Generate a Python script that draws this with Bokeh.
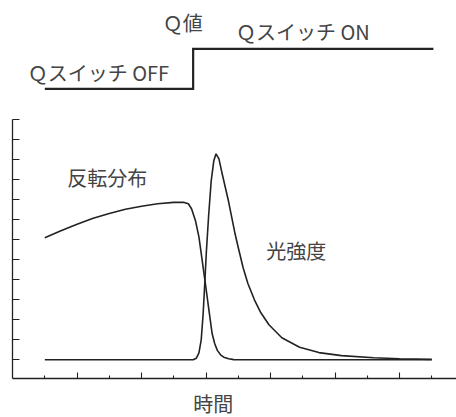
from bokeh.plotting import figure
from bokeh.models import Range1d, LinearAxis, FixedTicker, CustomJSTickFormatter
from bokeh.core.properties import value
from bokeh.embed import file_html
from bokeh.resources import INLINE

# --- data (time in tick units, amplitude in tick units) ---
inv_x = [0, 0.5, 1.0, 1.5, 2.0, 2.5, 3.0, 3.5, 4.0, 4.3, 4.45, 4.55, 4.67, 4.78,
         4.88, 4.98, 5.09, 5.19, 5.27, 5.35, 5.45, 5.55, 5.7, 5.86, 6.0, 12.0]
inv_y = [6.1, 6.45, 6.78, 7.08, 7.32, 7.53, 7.68, 7.8, 7.87, 7.88, 7.8, 7.55, 6.97, 6.13,
         4.97, 3.8, 2.47, 1.3, 0.8, 0.47, 0.25, 0.13, 0.05, 0.01, 0.0, 0.0]

light_x = [0, 4.6, 4.7, 4.78, 4.85, 4.91, 4.96, 5.01, 5.08, 5.16, 5.24, 5.31, 5.4, 5.5,
           5.6, 5.7, 5.8, 5.9, 6.0, 6.15, 6.3, 6.5, 6.7, 6.95, 7.35, 7.9, 8.5, 9.2,
           10.2, 11.0, 12.0]
light_y = [0, 0, 0.08, 0.35, 1.0, 2.3, 3.8, 5.4, 7.2, 8.95, 9.95, 10.3, 10.05, 9.3,
           8.6, 7.9, 7.1, 6.3, 5.6, 4.6, 3.8, 3.0, 2.35, 1.75, 1.1, 0.63, 0.36, 0.21,
           0.1, 0.05, 0.02]

q_x = [0.0, 4.6, 12.05]
q_y = [13.55, 15.55, 15.55]

y_ticks = list(range(0, 13))
x_major = [1, 3, 5, 7, 9, 11]
x_minor = [0, 2, 4, 6, 8, 10, 12]

labels = ["Ｑ値", "Ｑスイッチ ON", "Ｑスイッチ OFF", "反転分布", "光強度", "時間"]
label_x = [3.66, 5.93, -0.53, 0.70, 6.87, 4.60]
label_y = [16.88, 16.43, 14.35, 9.13, 5.47, -2.17]

FONT = "Noto Sans CJK JP"
INK = "#222222"
TXT = "#444444"

p = figure(width=456, height=417, output_backend="svg", toolbar_location=None,
           x_axis_type=None, y_axis_type=None, min_border=0,
           x_range=Range1d(-1.3736, 12.766), y_range=Range1d(-2.885, 17.965))
p.outline_line_color = None
p.background_fill_color = "white"

yax = LinearAxis(fixed_location=-1.0, bounds=(-0.95, 12),
                 ticker=FixedTicker(ticks=y_ticks, minor_ticks=[]),
                 formatter=CustomJSTickFormatter(code="return ''"),
                 major_tick_in=7, major_tick_out=0,
                 minor_tick_in=0, minor_tick_out=0, major_label_standoff=0,
                 axis_line_color=INK, major_tick_line_color=INK,
                 axis_line_width=1.3, major_tick_line_width=1.1)
p.add_layout(yax, "left")

xax = LinearAxis(fixed_location=-0.95, bounds=(-1.0, 12.77),
                 ticker=FixedTicker(ticks=x_major, minor_ticks=x_minor),
                 formatter=CustomJSTickFormatter(code="return ''"),
                 major_tick_in=6, major_tick_out=0,
                 minor_tick_in=3, minor_tick_out=0, major_label_standoff=0,
                 axis_line_color=INK, major_tick_line_color=INK,
                 minor_tick_line_color=INK,
                 axis_line_width=1.3, major_tick_line_width=1.1,
                 minor_tick_line_width=1.1)
p.add_layout(xax, "below")

p.line(inv_x, inv_y, line_color=INK, line_width=1.6)
p.line(light_x, light_y, line_color=INK, line_width=1.6)
p.step(q_x, q_y, mode="after", line_color=INK, line_width=2.2, line_join="miter")

p.text(x=label_x, y=label_y, text=labels, text_font=value(FONT),
       text_font_size="20px", text_color=TXT, text_align="left",
       text_baseline="middle")

open("out.html", "w").write(file_html(p, INLINE))
